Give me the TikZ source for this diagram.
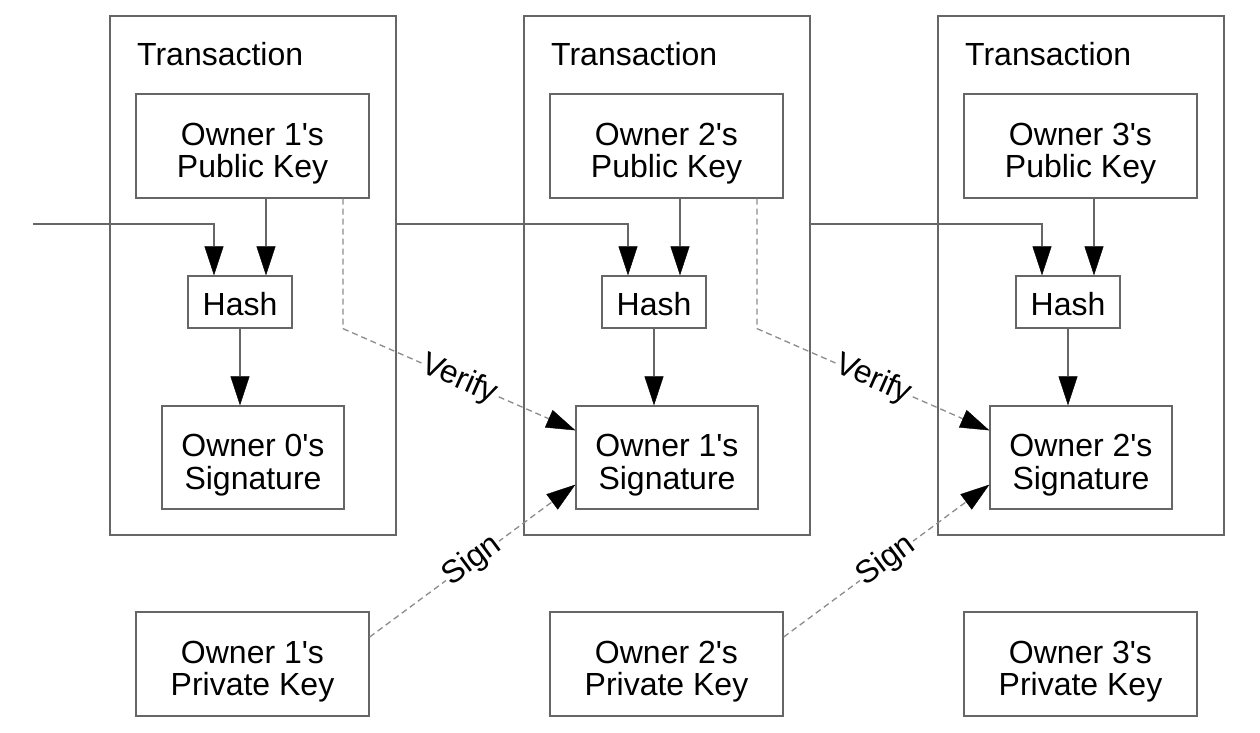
\documentclass[tikz,border=0pt]{standalone}
\usepackage{fontspec}
\setmainfont{Liberation Sans}
\usetikzlibrary{arrows.meta,calc}
\newcommand\ap{\textquotesingle}
\newcommand\up{\rule{0pt}{37.2pt}}
\newcommand\uph{\rule{0pt}{27.4pt}}
\begin{document}
\begin{tikzpicture}[x=1pt,y=-1pt,
  txt/.style={font=\fontsize{32}{32.5}\selectfont},
  box/.style={txt, draw=black!60, line width=1.3pt, rectangle, inner sep=0pt, align=center},
  tip/.style={-{Triangle[length=29pt,width=19pt,black,line width=0.4pt]}},
  conn/.style={draw=black!60, line width=1.3pt, tip},
  dconn/.style={draw=black!45, line width=1.3pt, dash pattern=on 6pt off 4pt, tip},
  lbl/.style={txt, fill=white, inner sep=1pt, sloped, midway}
]
\useasboundingbox[fill=white] (0,0) rectangle (1260,732);

\foreach \i/\j/\dx in {1/0/0, 2/1/414, 3/2/828}{
  \node[box, minimum width=286pt, minimum height=519pt] (tx\i) at (253+\dx,275.5) {};
  \node[txt, anchor=base west, inner sep=0pt] (tl\i) at (137+\dx,65) {Transaction};
  \node[box, minimum width=233pt, minimum height=104pt] (pub\i) at (252.5+\dx,146) {\up Owner \i\ap s\\Public Key};
  \node[box, minimum width=104pt, minimum height=52pt] (hash\i) at (240+\dx,302) {\uph Hash};
  \node[box, minimum width=182pt, minimum height=103pt] (sig\i) at (253+\dx,457.5) {\up Owner \j\ap s\\Signature};
  \node[box, minimum width=233pt, minimum height=104pt] (priv\i) at (252.5+\dx,664) {\up Owner \i\ap s\\Private Key};
  \draw[conn] ([xshift=26pt]hash\i.north |- pub\i.south) -- ([xshift=26pt]hash\i.north);
  \draw[conn] (hash\i.south) -- (hash\i.south |- sig\i.north);
}

\coordinate (start) at (33,224);
\draw[conn] (start) -| ([xshift=-26pt]hash1.north);
\draw[conn] (tx1.east |- start) -| ([xshift=-26pt]hash2.north);
\draw[conn] (tx2.east |- start) -| ([xshift=-26pt]hash3.north);

\draw[dconn] ([xshift=90.5pt]pub1.south) -- ++(0,130) -- node[lbl]{Verify} ([yshift=-25pt]sig2.north west);
\draw[dconn] ([xshift=90.5pt]pub2.south) -- ++(0,130) -- node[lbl]{Verify} ([yshift=-25pt]sig3.north west);

\draw[dconn] ([yshift=27pt]priv1.east) -- node[lbl]{Sign} ([yshift=25pt]sig2.south west);
\draw[dconn] ([yshift=27pt]priv2.east) -- node[lbl]{Sign} ([yshift=25pt]sig3.south west);
\end{tikzpicture}
\end{document}
